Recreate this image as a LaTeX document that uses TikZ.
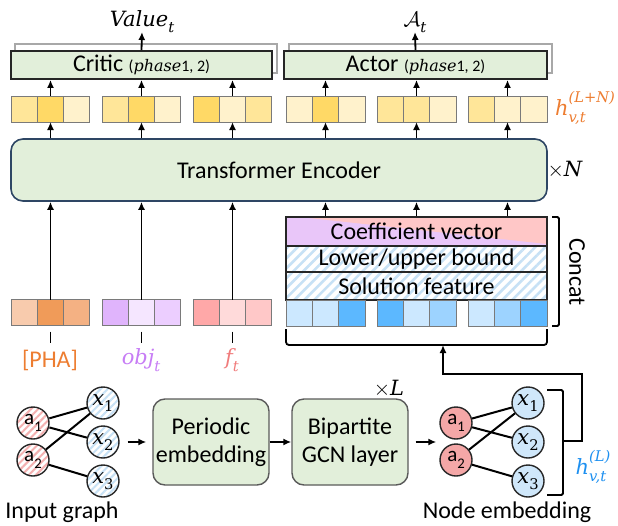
\RequirePackage{fix-cm}
\documentclass[tikz,border=0pt]{standalone}
\usepackage{fontspec}
\usepackage{graphicx}
\setmainfont{Carlito}
\newfontfamily\mf{DejaVu Serif}
\usetikzlibrary{arrows.meta,patterns.meta,calc}
\definecolor{boxgreen}{HTML}{E2EFDA}
\definecolor{teborder}{HTML}{2E4664}
\definecolor{boxgray}{HTML}{5A5A5A}
\definecolor{shadowgray}{HTML}{A8A8A8}
\definecolor{cellgray}{HTML}{7A7A7A}
\definecolor{yA}{HTML}{FFE699}
\definecolor{yB}{HTML}{FFD966}
\definecolor{yC}{HTML}{FFF2CC}
\definecolor{pA}{HTML}{F8CBAD}
\definecolor{pB}{HTML}{F09B59}
\definecolor{pC}{HTML}{F4B183}
\definecolor{oA}{HTML}{E0B4FC}
\definecolor{oB}{HTML}{F5E6FF}
\definecolor{oC}{HTML}{ECCEFF}
\definecolor{fA}{HTML}{FFA8A8}
\definecolor{fB}{HTML}{FFDADA}
\definecolor{fC}{HTML}{FFC8C8}
\definecolor{bA}{HTML}{CCE8FF}
\definecolor{bB}{HTML}{9DD3FF}
\definecolor{bC}{HTML}{5CB8FF}
\definecolor{phaor}{HTML}{ED7D31}
\definecolor{objpu}{HTML}{C77DF5}
\definecolor{ftred}{HTML}{F07C7C}
\definecolor{hblue}{HTML}{1E90F0}
\definecolor{coefpu}{HTML}{E9C6F9}
\definecolor{coefpk}{HTML}{FFC7C7}
\definecolor{hatchbl}{HTML}{C7E1F5}
\definecolor{hatchpk}{HTML}{F4B0B0}
\definecolor{nodered}{HTML}{F4A7A7}
\definecolor{nodeblue}{HTML}{CFE7FA}
\definecolor{circline}{HTML}{262626}
\newcommand\mi[1]{{\mf\itshape #1}}
\newcommand\sbs[1]{\raisebox{-0.3em}{\scalebox{0.7}{#1}}}
\newcommand\sps[1]{\raisebox{0.62em}{\scalebox{0.7}{#1}}}
\newcommand\vgrp[6]{%
  \node[cell,fill=#4] (#1-1) at ({#2+13.17},#3) {};
  \node[cell,fill=#5] (#1-2) at ({#2+39.5},#3) {};
  \node[cell,fill=#6] (#1-3) at ({#2+65.83},#3) {};}
\begin{document}
\begin{tikzpicture}[x=1pt,y=-1pt,
  arr/.style={-{Latex[length=8pt,width=7pt]},line width=1.8pt},
  cell/.style={draw=cellgray,line width=1pt,minimum width=26.33pt,minimum height=26pt,inner sep=0pt,outer sep=0pt},
  big/.style={font=\fontsize{24}{28}\selectfont},
  mlbl/.style={font=\fontsize{21}{24}\selectfont\mf\itshape,inner sep=1pt},
  topbox/.style={draw=circline,line width=1.8pt,fill=boxgreen,inner sep=0pt,font=\fontsize{24}{28}\selectfont},
  shadowbox/.style={draw=shadowgray,line width=1.2pt,fill=white},
  gbox/.style={draw=boxgray,line width=1.4pt,fill=boxgreen,rounded corners=12pt,align=center,
    minimum width=116pt,minimum height=86pt,inner sep=0pt,font=\fontsize{24}{28}\selectfont},
  hatchbox/.style={draw=circline,line width=1.5pt,preaction={fill=white},
    pattern={Lines[angle=45,distance=7pt,line width=2.6pt]},pattern color=hatchbl,
    minimum width=261pt,inner sep=0pt,font=\fontsize{24}{28}\selectfont},
  gnode/.style={circle,draw=circline,line width=1.4pt,minimum size=32pt,inner sep=0pt,font=\fontsize{21}{24}\selectfont},
  ha/.style={gnode,preaction={fill=white},pattern={Lines[angle=45,distance=5pt,line width=2pt]},pattern color=hatchpk},
  hx/.style={gnode,preaction={fill=white},pattern={Lines[angle=45,distance=5pt,line width=2pt]},pattern color=hatchbl},
  edge/.style={line width=2pt,black},
  brk/.style={line width=1.8pt}]
\useasboundingbox (0,0) rectangle (618,525);

% ---------- Critic / Actor ----------
\draw[shadowbox] (15,44) rectangle (277,73);
\draw[shadowbox] (289,44) rectangle (552,73);
\node[topbox,minimum width=261pt,minimum height=28pt] (critic) at (141.5,65)
  {Critic {\fontsize{16}{18}\selectfont(\mi{phase}1, 2)}};
\node[topbox,minimum width=263pt,minimum height=28pt] (actor) at (415.5,65)
  {Actor {\fontsize{16}{18}\selectfont(\mi{phase}1, 2)}};
\node[mlbl,anchor=base] (val) at (142,26) {Value\sbs{t}};
\node[mlbl,anchor=base] (act) at (415,26) {$\mathcal{A}$\sbs{t}};
\draw[arr] (critic.north) -- ($(val.base)+(0,6)$);
\draw[arr] (actor.north) -- ($(act.base)+(0,6)$);

% ---------- yellow output vectors ----------
\vgrp{yc1}{11}{109}{yA}{yB}{yC}
\vgrp{yc2}{102}{109}{yA}{yB}{yC}
\vgrp{yc3}{193}{109}{yB}{yC}{yA}
\vgrp{ya1}{286}{109}{yC}{yB}{yC}
\vgrp{ya2}{377}{109}{yA}{yA}{yC}
\vgrp{ya3}{468}{109}{yA}{yC}{yC}
\node[mlbl,text=phaor] (hout) at (585,108) {h\rlap{\sbs{v,t}}\sps{(L+N)}};

% ---------- Transformer ----------
\node[draw=teborder,line width=1.6pt,fill=boxgreen,rounded corners=12pt,
  minimum width=536pt,minimum height=62pt,inner sep=0pt,font=\fontsize{24}{28}\selectfont]
  (te) at (279,170) {Transformer Encoder};
\node[mlbl] (xn) at (565,170) {{\upshape$\times$}N};
\foreach \g in {yc1,yc2,yc3} {
  \draw[arr] (\g-2.south |- te.north) -- (\g-2.south);
  \draw[arr] (\g-2.north) -- (\g-2.north |- critic.south);}
\foreach \g in {ya1,ya2,ya3} {
  \draw[arr] (\g-2.south |- te.north) -- (\g-2.south);
  \draw[arr] (\g-2.north) -- (\g-2.north |- actor.south);}

% ---------- left input vectors ----------
\vgrp{pha}{11}{312.5}{pA}{pB}{pC}
\vgrp{obj}{102}{312.5}{oA}{oB}{oC}
\vgrp{ft}{193}{312.5}{fA}{fB}{fC}
\foreach \g in {pha,obj,ft} {
  \draw[arr] (\g-2.north) -- (\g-2.north |- te.south);
  \draw[brk] ($(\g-2.south)+(0,6)$) -- ++(0,11);}
\node[big,text=phaor] (phal) at (50,360) {[PHA]};
\node[mlbl,text=objpu] (objl) at (141,360) {obj\sbs{t}};
\node[mlbl,text=ftred] (ftl) at (232,360) {f\sbs{t}};

% ---------- right stack ----------
\fill[coefpu] (286,217) rectangle (547,246);
\fill[coefpk] (300,217) -- (547,217) -- (547,244) -- cycle;
\node[draw=circline,line width=1.5pt,minimum width=261pt,minimum height=29pt,inner sep=0pt,
  font=\fontsize{24}{28}\selectfont] (coef) at (416.5,231.5) {Coefficient vector};
\node[hatchbox,minimum height=26pt] (lub) at (416.5,259) {Lower/upper bound};
\node[hatchbox,minimum height=28pt] (sol) at (416.5,286) {Solution feature};
\vgrp{b1}{286}{313}{bA}{bA}{bC}
\vgrp{b2}{377}{313}{bC}{bA}{bB}
\vgrp{b3}{468}{313}{bA}{bB}{bC}
\foreach \g in {b1,b2,b3}
  \draw[arr] (\g-2.north |- coef.north) -- (\g-2.north |- te.south);
\draw[brk,rounded corners=1.5pt] (552,217) -- (559,217) -- (559,326) -- (552,326);
\node[big,rotate=-90] (concat) at (577,272) {Concat};
\draw[brk,rounded corners=3pt] ($(b1-1.south west)+(0,3)$) -- ($(b1-1.south west)+(0,19)$)
  -- ($(b3-3.south east)+(0,19)$) -- ($(b3-3.south east)+(0,3)$);
\coordinate (bbrk) at (443,345);

% ---------- input graph ----------
\node[ha] (ia1) at (33,423) {a\sbs{1}};
\node[ha] (ia2) at (33,460) {a\sbs{2}};
\node[hx] (ix1) at (103,403) {\mi{x}\sbs{\mf 1}};
\node[hx] (ix2) at (103,442) {\mi{x}\sbs{\mf 2}};
\node[hx] (ix3) at (103,481) {\mi{x}\sbs{\mf 3}};
\draw[edge] (ia1) -- (ix1);
\draw[edge] (ia1) -- (ix2);
\draw[edge] (ia2) -- (ix1);
\draw[edge] (ia2) -- (ix3);
\node[big] (igl) at (62,512) {Input graph};

% ---------- embedding boxes ----------
\node[gbox] (pe) at (211,442) {Periodic\\embedding};
\node[gbox] (gcn) at (350,442) {Bipartite\\GCN layer};
\node[mlbl] (xl) at (389,389) {{\upshape$\times$}L};
\draw[arr] ($(ix2.east)+(8,0)$) -- ($(pe.west)+(-6,0)$);
\draw[arr] (pe.east) -- (gcn.west);

% ---------- node embedding ----------
\node[gnode,fill=nodered] (na1) at (456,423) {a\sbs{1}};
\node[gnode,fill=nodered] (na2) at (456,460) {a\sbs{2}};
\node[gnode,fill=nodeblue] (nx1) at (528,403) {\mi{x}\sbs{\mf 1}};
\node[gnode,fill=nodeblue] (nx2) at (528,442) {\mi{x}\sbs{\mf 2}};
\node[gnode,fill=nodeblue] (nx3) at (528,481) {\mi{x}\sbs{\mf 3}};
\draw[edge] (na1) -- (nx1);
\draw[edge] (na1) -- (nx2);
\draw[edge] (na2) -- (nx1);
\draw[edge] (na2) -- (nx3);
\draw[arr] ($(gcn.east)+(7,0)$) -- ($(na1.west |- gcn.east)+(-3,0)$);
\node[big] (nel) at (507,512) {Node embedding};
\draw[brk,rounded corners=1.5pt] (547,390) -- (563,390) -- (563,495) -- (547,495);
\coordinate (nbrk) at (563,441);
\node[mlbl,text=hblue] (hl) at (593,467) {h\rlap{\sbs{v,t}}\sps{(L)}};
\draw[arr] (nbrk) -- ++(19,0) |- ($(bbrk)+(0,29)$) -- (bbrk);
\end{tikzpicture}
\end{document}
